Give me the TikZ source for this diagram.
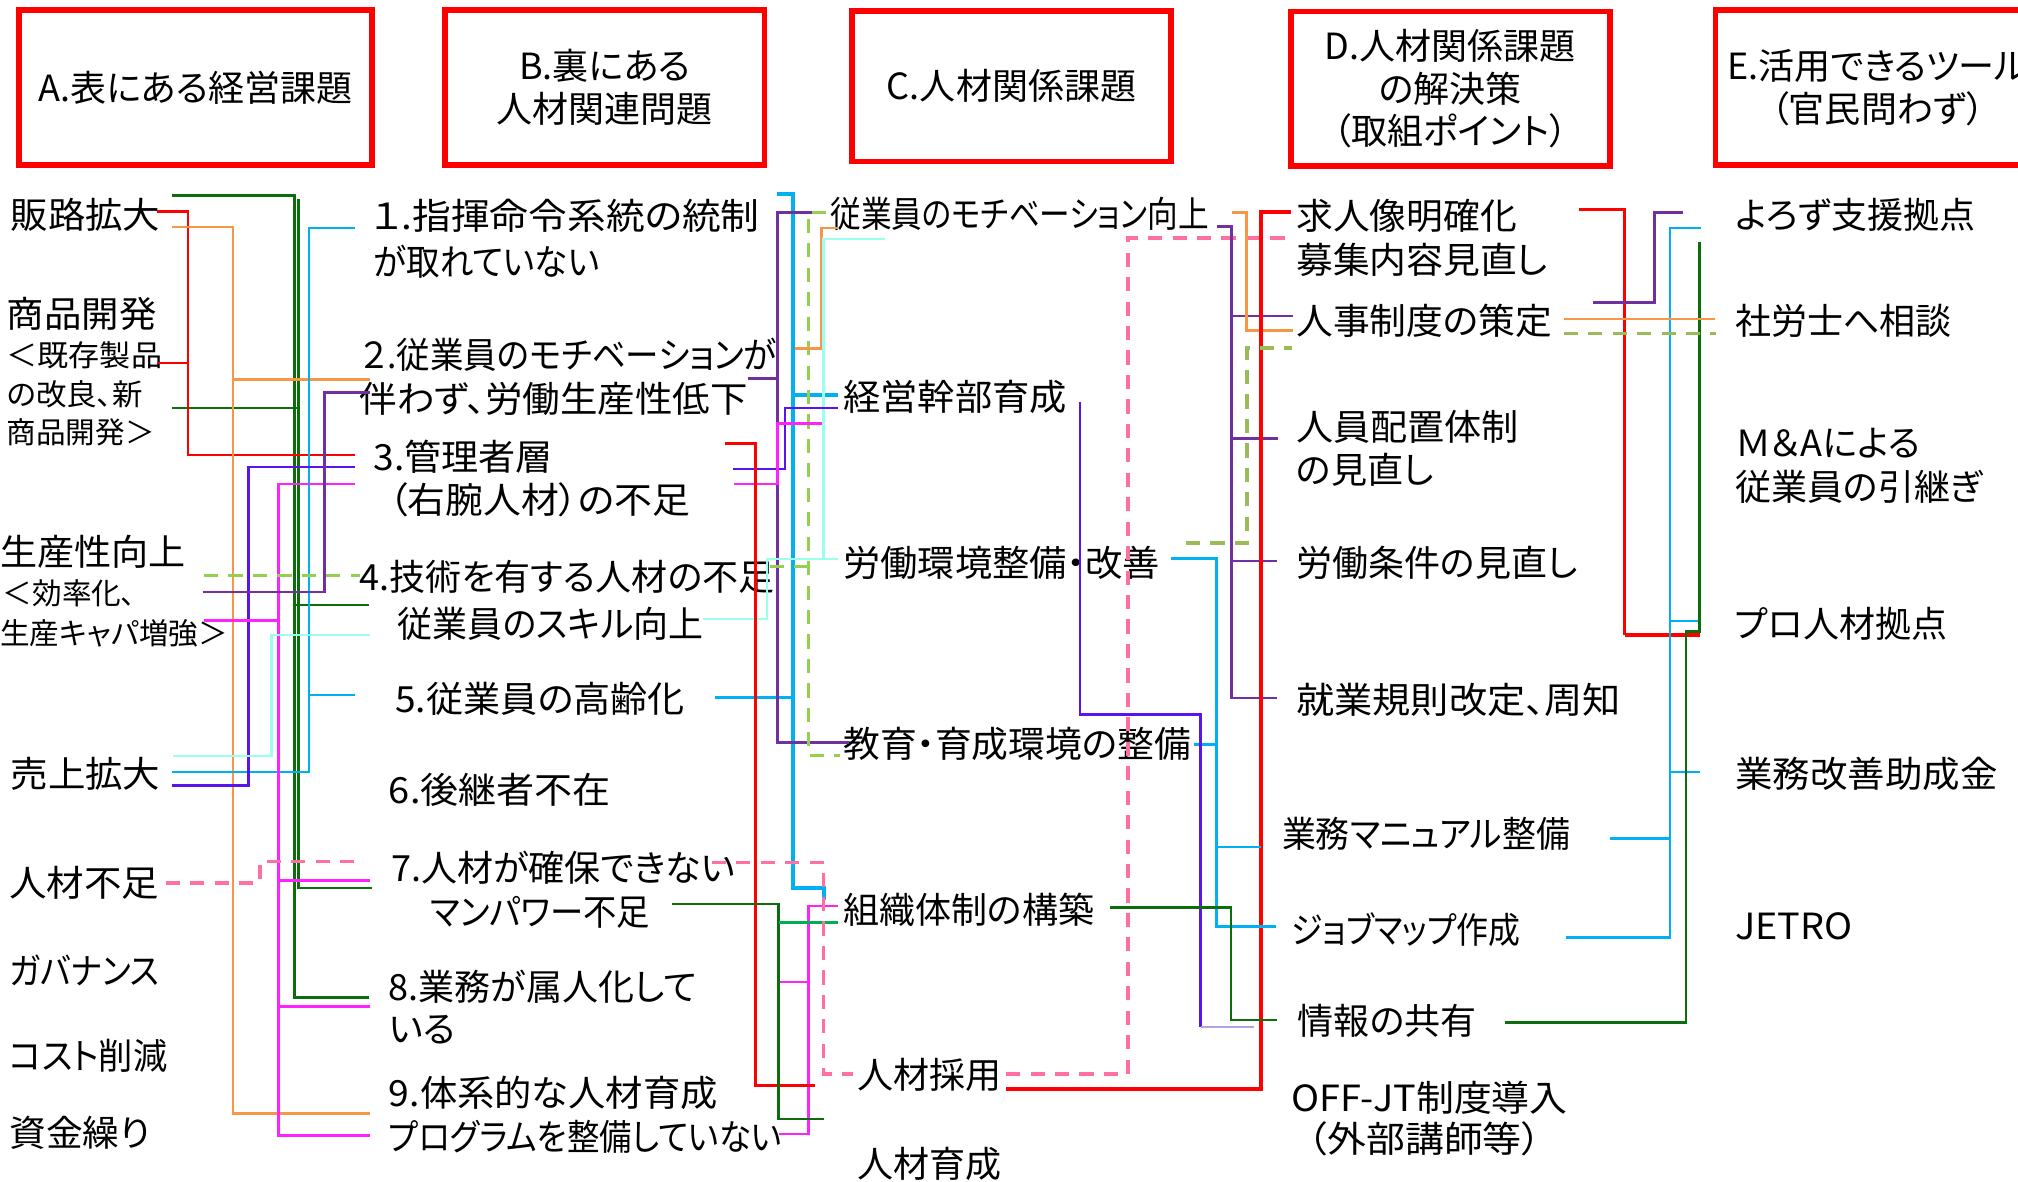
\documentclass[tikz,border=0pt]{standalone}
\usepackage{graphicx}
\usepackage{fontspec}
\setmainfont{Noto Sans CJK JP}[RawFeature={+palt}]
\newcommand{\hsq}[2]{\scalebox{#1}[1]{#2}}
\definecolor{cRed}{HTML}{FF0000}
\definecolor{cDG}{HTML}{0B6E0B}
\definecolor{cOr}{HTML}{F79646}
\definecolor{cCy}{HTML}{00B0F0}
\definecolor{cBV}{HTML}{5B13EE}
\definecolor{cMa}{HTML}{FF22FF}
\definecolor{cPu}{HTML}{7030A0}
\definecolor{cLG}{HTML}{92D050}
\definecolor{cOl}{HTML}{9BBB59}
\definecolor{cAq}{HTML}{99FFEE}
\definecolor{cPk}{HTML}{FF6F9F}
\definecolor{cMG}{HTML}{00B050}
\definecolor{cLv}{HTML}{B3A2E0}
\begin{document}
\begin{tikzpicture}[x=1pt,y=-1pt,
  t/.style={anchor=west,inner sep=0pt,font=\fontsize{28}{33}\selectfont},
  ts/.style={anchor=west,inner sep=0pt,font=\fontsize{23}{28}\selectfont},
  hbox/.style={draw=cRed,line width=4.5pt,inner sep=0pt,align=center,font=\fontsize{28}{33}\selectfont},
  ln/.style={line width=2pt},
  dsh/.style={line width=2.6pt,dash pattern=on 11pt off 8pt}]
\useasboundingbox (0,0) rectangle (1568,918);
% header boxes
\node[hbox,minimum width=274pt,minimum height=120pt] (hA) at (152,68) {A.表にある経営課題};
\node[hbox,minimum width=248pt,minimum height=120pt] (hB) at (470,68) {B.裏にある\\人材関連問題};
\node[hbox,minimum width=248pt,minimum height=117pt] (hC) at (786,67) {C.人材関係課題};
\node[hbox,minimum width=248pt,minimum height=120pt] (hD) at (1127,69) {D.人材関係課題\\の解決策\\（取組ポイント）};
\node[hbox,minimum width=252pt,minimum height=120pt] (hE) at (1459,68) {E.活用できるツール\\（官民問わず）};
% column A
\node[t] (a1) at (8,167) {\hsq{1.04}{販路拡大}};
\node[t] (a2) at (5,244) {\hsq{1.04}{商品開発}};
\node[ts] (a2b) at (5,276) {\hsq{1.05}{＜既存製品}};
\node[ts] (a2c) at (5,306) {\hsq{1.03}{の改良、新}};
\node[ts] (a2d) at (5,336) {商品開発＞};
\node[t] (a3) at (0,429) {\hsq{1.03}{生産性向上}};
\node[ts] (a3b) at (2,461) {＜効率化、};
\node[ts] (a3c) at (0,492) {生産キャパ増強＞};
\node[t] (a4) at (8,601) {\hsq{1.04}{売上拡大}};
\node[t] (a5) at (7,686) {\hsq{1.04}{人材不足}};
\node[t] (a6) at (7,754) {\hsq{0.9}{ガバナンス}};
\node[t] (a7) at (7,820) {\hsq{0.95}{コスト削減}};
\node[t] (a8) at (7,880) {\hsq{1.02}{資金繰り}};
% column B
\node[t] (b1) at (289,168) {\hsq{1.075}{１.指揮命令系統の統制}};
\node[t] (b1b) at (290,203) {\hsq{0.93}{が取れていない}};
\node[t] (b2) at (281,276) {\hsq{0.93}{２.従業員のモチベーションが}};
\node[t] (b2b) at (279,310) {\hsq{1.04}{伴わず、労働生産性低下}};
\node[t] (b3) at (290,355) {\hsq{1.03}{3.管理者層}};
\node[t] (b3b) at (302,388) {\hsq{1.05}{（右腕人材）の不足}};
\node[t] (b4) at (279,448) {4.技術を有する人材の不足};
\node[t] (b4b) at (309,485) {\hsq{0.97}{従業員のスキル向上}};
\node[t] (b5) at (307,543) {\hsq{1.03}{5.従業員の高齢化}};
\node[t] (b6) at (302,614) {\hsq{1.055}{6.後継者不在}};
\node[t] (b7) at (304,674) {7.人材が確保できない};
\node[t] (b7b) at (334,709) {\hsq{0.925}{マンパワー不足}};
\node[t] (b8) at (302,767) {8.業務が属人化して};
\node[t] (b8b) at (302,800) {いる};
\node[t] (b9) at (302,849) {\hsq{1.035}{9.体系的な人材育成}};
\node[t] (b9b) at (302,883) {\hsq{0.9}{プログラムを整備していない}};
% column C
\node[t] (c1) at (645,166) {\hsq{0.85}{従業員のモチベーション向上}};
\node[t] (c2) at (655,308) {\hsq{1.035}{経営幹部育成}};
\node[t] (c3) at (655,437) {\hsq{1.035}{労働環境整備・改善}};
\node[t] (c4) at (655,578) {\hsq{1.02}{教育・育成環境の整備}};
\node[t] (c5) at (655,707) {組織体制の構築};
\node[t] (c6) at (666,835) {人材採用};
\node[t] (c7) at (666,904) {人材育成};
% column D
\node[t] (d1) at (1007,168) {\hsq{1.02}{求人像明確化}};
\node[t] (d1b) at (1007,202) {\hsq{1.02}{募集内容見直し}};
\node[t] (d2) at (1007,249) {\hsq{1.02}{人事制度の策定}};
\node[t] (d3) at (1007,332) {\hsq{1.03}{人員配置体制}};
\node[t] (d3b) at (1007,365) {の見直し};
\node[t] (d4) at (1007,437) {労働条件の見直し};
\node[t] (d5) at (1007,544) {\hsq{1.06}{就業規則改定、周知}};
\node[t] (d6) at (996,648) {\hsq{0.94}{業務マニュアル整備}};
\node[t] (d7) at (1003,722) {\hsq{0.885}{ジョブマップ作成}};
\node[t] (d8) at (1008,793) {情報の共有};
\node[t] (d9) at (1003,853) {\hsq{1.05}{OFF-JT制度導入}};
\node[t] (d9b) at (1016,885) {\hsq{1.08}{（外部講師等）}};
% column E
\node[t] (e1) at (1348,167) {よろず支援拠点};
\node[t] (e2) at (1348,249) {社労士へ相談};
\node[t] (e3) at (1348,344) {Ｍ＆Aによる};
\node[t] (e3b) at (1348,378) {従業員の引継ぎ};
\node[t] (e4) at (1348,485) {プロ人材拠点};
\node[t] (e5) at (1348,601) {\hsq{1.04}{業務改善助成金}};
\node[t] (e6) at (1348,720) {\hsq{1.05}{JETRO}};
% ===== A -> B =====
\draw[ln,cDG] (134,152) -- (229,152) -- (229,775) -- (287,775);
\draw[ln,cDG] (229,470) -- (287,470);
\draw[ln,cDG] (232,155) -- (232,690) -- (289,690);
\draw[ln,cDG] (134,317) -- (231,317);
\draw[ln,cRed] (122,164.5) -- (146,164.5) -- (146,353.5) -- (276,353.5);
\draw[ln,cRed] (122,282) -- (146,282);
\draw[ln,cOr] (134,176.5) -- (181,176.5) -- (181,865) -- (287.5,865);
\draw[ln,cOr] (181,295) -- (287.5,295);
\draw[ln,cCy] (134,600) -- (240,600) -- (240,177) -- (276,177);
\draw[ln,cCy] (240,540) -- (276,540);
\draw[ln,cBV] (134,610.5) -- (193,610.5) -- (193,363) -- (276,363);
\draw[ln,cMa] (158.5,482) -- (216.5,482);
\draw[ln,cMa] (276,376) -- (216.5,376) -- (216.5,882.5) -- (287.5,882.5);
\draw[ln,cMa] (216.5,684) -- (287.5,684);
\draw[ln,cMa] (216.5,782) -- (287.5,782);
\draw[ln,cPu] (157.5,460) -- (252,460) -- (252,305) -- (287.5,305);
\draw[dsh,cLG] (158.5,447) -- (280,447);
\draw[ln,cAq] (134.7,587.5) -- (211,587.5) -- (211,493.5) -- (287.5,493.5);
\draw[dsh,cPk] (128.7,686) -- (202,686) -- (202,669.5) -- (276,669.5);
% ===== B -> C =====
\draw[line width=3pt,cCy] (603.5,151) -- (616.4,151) -- (616.4,690) -- (640,690) -- (640,699);
\draw[line width=3pt,cCy] (616.4,307) -- (651,307);
\draw[ln,cCy] (555.6,541.8) -- (616.4,541.8);
\draw[ln,cPu] (581.5,294) -- (604,294);
\draw[ln,cPu] (639.7,165) -- (604,165) -- (604,577) -- (660,577);
\draw[dsh,cLG] (598,440) -- (628,440);
\draw[dsh,cLG] (642,165) -- (628,165) -- (628,587) -- (652.7,587);
\draw[ln,cOr] (617.7,271) -- (638.4,271) -- (638.4,177) -- (651,177);
\draw[ln,cAq] (546,481) -- (596,481) -- (596,434.4) -- (651,434.4);
\draw[ln,cAq] (639.7,434.4) -- (639.7,185.7) -- (688,185.7);
\draw[ln,cBV] (569.8,364.4) -- (610,364.4) -- (610,317) -- (651,317);
\draw[ln,cMa] (570,376) -- (604,376) -- (604,329) -- (638.4,329);
\draw[ln,cMa] (605,881) -- (628,881) -- (628,704) -- (651,704);
\draw[ln,cMa] (605,763) -- (628,763);
\draw[ln,cRed] (563.3,344.5) -- (587,344.5) -- (587,843.6) -- (633,843.6);
\draw[ln,cDG] (522,702.5) -- (605,702.5) -- (605,869.6) -- (640.6,869.6);
\draw[ln,cMG] (605,717) -- (651,717);
\draw[dsh,cPk] (553,670) -- (640,670) -- (640,834.6) -- (663,834.6);
% ===== C -> D =====
\draw[dsh,cPk] (781.7,834.6) -- (876.4,834.6) -- (876.4,185) -- (1000.4,185);
\draw[ln,cPu] (945.3,176) -- (957,176) -- (957,542.4) -- (992,542.4);
\draw[ln,cPu] (957,245.5) -- (1004.7,245.5);
\draw[ln,cPu] (957,340.6) -- (993,340.6);
\draw[ln,cPu] (957,436) -- (992,436);
\draw[ln,cOr] (957,165) -- (968.5,165) -- (968.5,257) -- (1005,257);
\draw[line width=3pt,cRed] (781.7,846) -- (980,846) -- (980,165) -- (1003,165);
\draw[dsh,cOl] (921.5,422) -- (969,422) -- (969,270.5) -- (1004,270.5);
\draw[ln,cCy] (909.6,433.8) -- (945.3,433.8) -- (945.3,719.7) -- (991.5,719.7);
\draw[ln,cCy] (927.5,578.6) -- (945.3,578.6);
\draw[ln,cCy] (945.3,658) -- (979.6,658);
\draw[ln,cBV] (839.2,312) -- (839.2,555.3) -- (932.8,555.3) -- (932.8,798);
\draw[ln,cLv] (932.8,798) -- (974.4,798);
\draw[ln,cDG] (862.7,705) -- (956.6,705) -- (956.6,792.5) -- (992.3,792.5);
% ===== D -> E =====
\draw[ln,cRed] (1227,163) -- (1262.3,163) -- (1262.3,493.4);
\draw[line width=3.5pt,cRed] (1262.3,493.4) -- (1320.6,493.4);
\draw[ln,cPu] (1237.6,235) -- (1285.5,235) -- (1285.5,165) -- (1308,165);
\draw[ln,cCy] (1216.7,728.6) -- (1297.6,728.6) -- (1297.6,177) -- (1321.3,177);
\draw[ln,cCy] (1251,651.4) -- (1297.6,651.4);
\draw[ln,cCy] (1297.6,600) -- (1320.6,600);
\draw[ln,cCy] (1297.6,482.5) -- (1320.6,482.5);
\draw[ln,cDG] (1169,794.6) -- (1310,794.6) -- (1310,490.8) -- (1320.6,490.8) -- (1320.6,187.8);
\draw[ln,cOr] (1215,248) -- (1332.7,248);
\draw[dsh,cOl] (1215,259) -- (1333,259);
\end{tikzpicture}
\end{document}
